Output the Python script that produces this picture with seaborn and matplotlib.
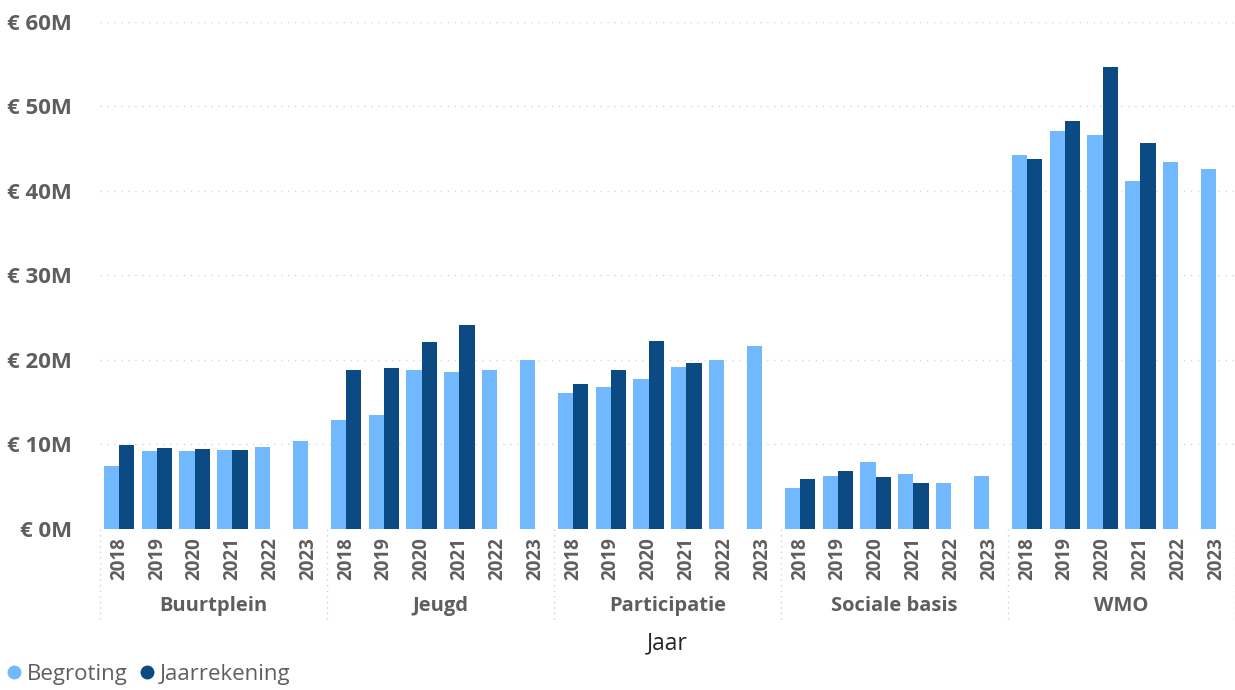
import matplotlib
matplotlib.use("Agg")
import matplotlib.pyplot as plt
import seaborn as sns
import pandas as pd
import numpy as np
from matplotlib.lines import Line2D

categories = ["Buurtplein", "Jeugd", "Participatie", "Sociale basis", "WMO"]
years = ["2018", "2019", "2020", "2021", "2022", "2023"]
begroting = [
    [7.5, 9.2, 9.2, 9.4, 9.7, 10.4],
    [12.9, 13.5, 18.8, 18.6, 18.8, 20.0],
    [16.1, 16.8, 17.8, 19.2, 20.0, 21.7],
    [4.8, 6.3, 7.9, 6.5, 5.4, 6.3],
    [44.3, 47.1, 46.6, 41.2, 43.4, 42.6],
]
jaarrekening = [
    [9.9, 9.6, 9.5, 9.4, None, None],
    [18.8, 19.0, 22.1, 24.1, None, None],
    [17.1, 18.8, 22.2, 19.7, None, None],
    [5.9, 6.9, 6.1, 5.4, None, None],
    [43.8, 48.3, 54.7, 45.7, None, None],
]
series = ["Begroting", "Jaarrekening"]
colors = ["#72B8FE", "#0B4A82"]
yticks = [0, 10, 20, 30, 40, 50, 60]

rows = []
order = []
for ci, cat in enumerate(categories):
    for yi, yr in enumerate(years):
        slot = f"{cat}|{yr}"
        order.append(slot)
        rows.append({"slot": slot, "serie": series[0], "value": begroting[ci][yi] * 1e6})
        v = jaarrekening[ci][yi]
        rows.append({"slot": slot, "serie": series[1], "value": np.nan if v is None else v * 1e6})
df = pd.DataFrame(rows)

sns.set_style("white")
plt.rcParams["font.family"] = ["Open Sans", "DejaVu Sans"]

fig = plt.figure(figsize=(12.35, 6.9), dpi=100)
ax = fig.add_axes([0.081, 0.2333, 0.919, 0.735])

sns.barplot(data=df, x="slot", y="value", hue="serie", order=order,
            hue_order=series, palette=colors, saturation=1, width=0.8,
            errorbar=None, legend=False, linewidth=0, ax=ax)

ax.set_ylim(0, 60e6)
ax.set_xlim(-0.5, len(order) - 0.5)
ax.set_yticks([v * 1e6 for v in yticks])
ax.set_yticklabels([f"€ {v}M" for v in yticks], fontsize=16, fontweight="bold", color="#605E5C")
ax.tick_params(axis="y", length=0, pad=20)
ax.set_xticks(range(len(order)))
ax.set_xticklabels([s.split("|")[1] for s in order], rotation=90, fontsize=13.5,
                   fontweight="bold", color="#605E5C")
ax.tick_params(axis="x", length=0, pad=6)
ax.set_xlabel("")
ax.set_ylabel("")
for s in ax.spines.values():
    s.set_visible(False)
ax.yaxis.grid(True, color="#D6D6D6", linestyle=(0, (1, 4)), linewidth=1)
ax.set_axisbelow(True)

trans = ax.get_xaxis_transform()
n = len(years)
for ci, cat in enumerate(categories):
    ax.text(ci * n + (n - 1) / 2, -0.152, cat, transform=trans, ha="center", va="center",
            fontsize=14.5, fontweight="bold", color="#605E5C")
for b in range(len(categories) + 1):
    ax.plot([b * n - 0.5, b * n - 0.5], [0, -0.183], transform=trans, clip_on=False,
            color="#D0D0D0", linestyle=(0, (1, 3)), linewidth=1)

ax.text(0.5, -0.225, "Jaar", transform=ax.transAxes, ha="center", va="center",
        fontsize=16.5, color="#252423")

handles = [Line2D([], [], marker="o", linestyle="", markersize=9,
                  markerfacecolor=c, markeredgecolor=c) for c in colors]
fig.legend(handles, series, loc="lower left", bbox_to_anchor=(-0.006, -0.012),
           ncol=2, frameon=False, fontsize=16, handlelength=0.7, handletextpad=0.25,
           columnspacing=0.5, labelcolor="#605E5C", borderaxespad=0.2)

fig.savefig("out.png", dpi=100)
